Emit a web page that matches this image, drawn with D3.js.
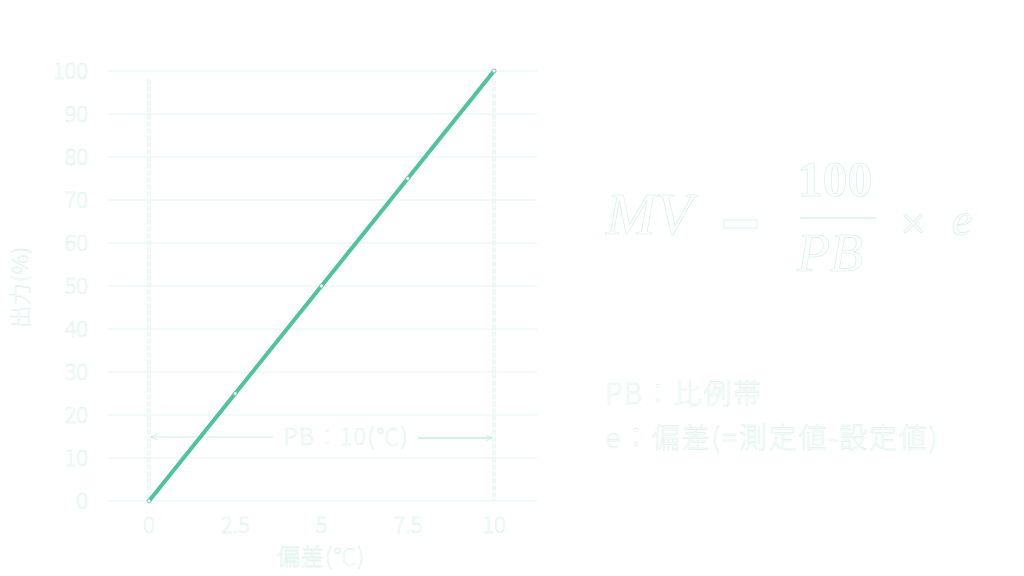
<!DOCTYPE html>
<html><head><meta charset="utf-8">
<script src="https://cdn.jsdelivr.net/npm/d3@7"></script>
<style>
body{margin:0;background:#fff;}
</style></head>
<body>
<svg id="c" width="1024" height="576"></svg>
<script>
const deviation = [0, 2.5, 5, 7.5, 10];
const output = [0, 25, 50, 75, 100];
const xTicks = [0, 2.5, 5, 7.5, 10];
const yTicks = [0,10,20,30,40,50,60,70,80,90,100];
const pbLabel = "PB：10(℃)";
const yTitle = "出力(%)";
const xTitle = "偏差(℃)";
const legendLines = ["PB：比例帯", "e：偏差(=測定値-設定値)"];

const SANS = "'Noto Sans CJK JP','Noto Sans',sans-serif";
const SERIF = "'Liberation Serif','DejaVu Serif',serif";
const svg = d3.select("#c");
const x = d3.scaleLinear().domain([0,10]).range([149,494]);
const y = d3.scaleLinear().domain([0,100]).range([501,71]);
const edge = "#d3efe7";
const lineCol = "#4fc3a1";

function ghost(sel, w){ return sel.attr("fill","#fff").attr("stroke",edge).attr("stroke-width",w||0.4)
  .attr("font-family",SANS).attr("font-weight",300); }

// gridlines
svg.append("g").selectAll("line").data(yTicks).join("line")
  .attr("x1",108).attr("x2",537).attr("y1",d=>y(d)).attr("y2",d=>y(d))
  .attr("stroke", "#e2f5f0").attr("stroke-width",1);

// y tick labels
svg.append("g").selectAll("text").data(yTicks).join("text")
  .attr("x",88).attr("y",d=>y(d)+8).attr("text-anchor","end")
  .call(ghost).attr("font-size",22).text(d=>d);

// x tick labels
svg.append("g").selectAll("text").data(xTicks).join("text")
  .attr("x",d=>x(d)).attr("y",533).attr("text-anchor","middle")
  .call(ghost).attr("font-size",22).text(d=>d);

// titles
svg.append("text").attr("transform","translate(28,287) rotate(-90)")
  .attr("text-anchor","middle").call(ghost).attr("font-size",22).attr("letter-spacing",1).text(yTitle);
svg.append("text").attr("x",321).attr("y",565).attr("text-anchor","middle")
  .call(ghost).attr("font-size",23).attr("letter-spacing",1).text(xTitle);

// dashed verticals
[0,10].forEach(v=>{
  svg.append("line").attr("x1",x(v)).attr("x2",x(v)).attr("y1",y(98)).attr("y2",y(0))
    .attr("stroke","#d5f1e9").attr("stroke-width",3).attr("stroke-dasharray","5,2");
  svg.append("line").attr("x1",x(v)).attr("x2",x(v)).attr("y1",y(98)).attr("y2",y(0))
    .attr("stroke","#fff").attr("stroke-width",1.4).attr("stroke-dasharray","5,2");
});

// PB arrow annotation
const ay = 437;
svg.append("defs").append("marker").attr("id","ah").attr("viewBox","0 0 10 10")
  .attr("refX",9).attr("refY",5).attr("markerWidth",6).attr("markerHeight",6).attr("orient","auto-start-reverse")
  .append("path").attr("d","M0,1L9,5L0,9").attr("fill","none").attr("stroke","#bfe9dc");
svg.append("line").attr("x1",x(0)+2).attr("x2",x(3.6)).attr("y1",ay).attr("y2",ay)
  .attr("stroke","#cdeee4").attr("stroke-width",1.2).attr("marker-start","url(#ah)");
svg.append("line").attr("x1",x(7.8)).attr("x2",x(10)-2).attr("y1",ay+1).attr("y2",ay+1)
  .attr("stroke","#a8e3d1").attr("stroke-width",1.2).attr("marker-end","url(#ah)");
svg.append("text").attr("x",x(5.72)).attr("y",ay+8).attr("text-anchor","middle")
  .call(ghost).attr("font-size",23).attr("letter-spacing",1.5).text(pbLabel);

// main line
svg.append("path").datum(deviation.map((d,i)=>[d,output[i]]))
  .attr("d", d3.line().x(d=>x(d[0])).y(d=>y(d[1])))
  .attr("fill","none").attr("stroke",lineCol).attr("stroke-width",4);
svg.append("g").selectAll("circle").data(deviation.map((d,i)=>[d,output[i]])).join("circle")
  .attr("cx",d=>x(d[0])).attr("cy",d=>y(d[1])).attr("r",2)
  .attr("fill","#fff").attr("stroke",lineCol).attr("stroke-width",0.8);

// formula
function fx(sel){ return sel.attr("fill","#fff").attr("stroke",edge).attr("stroke-width",0.6).attr("font-family",SERIF); }
svg.append("text").attr("x",606).attr("y",234).call(fx).attr("font-size",60).attr("font-style","italic").text("MV");
svg.append("rect").attr("x",724).attr("y",220).attr("width",33).attr("height",8).attr("fill","#fff").attr("stroke",edge).attr("stroke-width",0.8);
svg.append("text").attr("x",835).attr("y",196).attr("text-anchor","middle").call(fx).attr("font-size",50).attr("font-weight","bold").text("100");
svg.append("line").attr("x1",800).attr("x2",876).attr("y1",218).attr("y2",218).attr("stroke","#d8f2ea").attr("stroke-width",1.5);
svg.append("text").attr("x",830).attr("y",271).attr("text-anchor","middle").call(fx).attr("font-size",54).attr("font-style","italic").text("PB");
svg.append("text").attr("x",913).attr("y",239).attr("text-anchor","middle").call(fx).attr("font-size",46).text("×");
svg.append("text").attr("x",962).attr("y",235).attr("text-anchor","middle").call(fx).attr("font-size",46).attr("font-style","italic").text("e");

// legend text
svg.append("g").selectAll("text").data(legendLines).join("text")
  .attr("x",605).attr("y",(d,i)=>404+i*44).call(ghost).attr("font-size",28).attr("letter-spacing",1.8).text(d=>d);
</script>
</body></html>
